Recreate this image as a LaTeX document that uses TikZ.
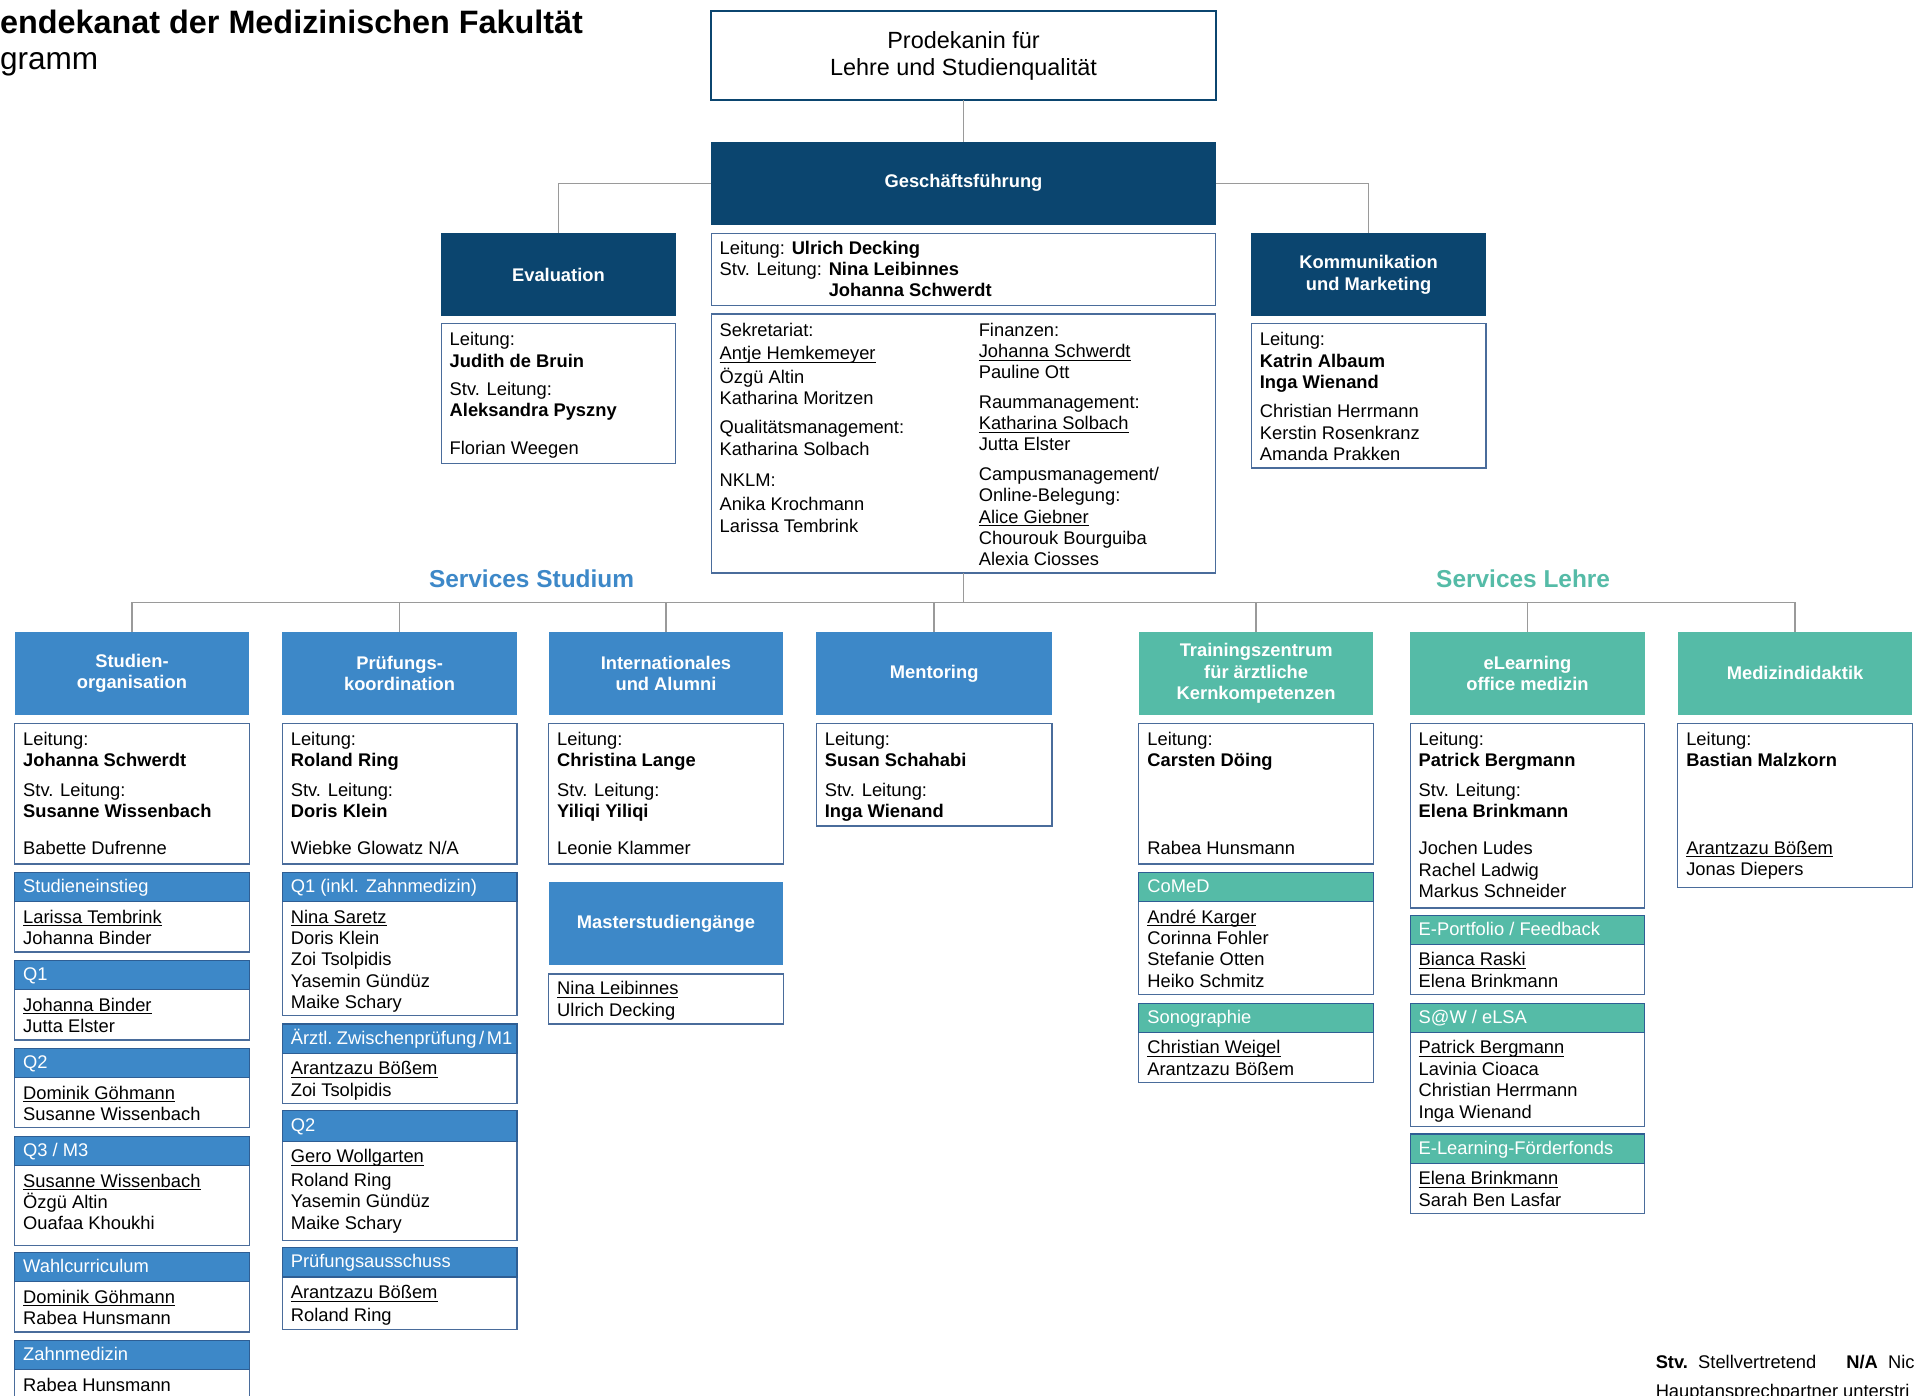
\documentclass[tikz,border=0pt]{standalone}
\usepackage{fontspec}
\setmainfont{Liberation Sans}
\usetikzlibrary{fit,calc}
\definecolor{dblue}{HTML}{0B456F}
\definecolor{mblue}{HTML}{3D88C8}
\definecolor{tealc}{HTML}{55BBA7}
\definecolor{bordc}{HTML}{4A6C9B}
\definecolor{hbordc}{HTML}{2E5E94}
\definecolor{conncol}{HTML}{9A9A9A}
\newcommand\undl[1]{\setbox0\hbox{#1}\rlap{\rule[-1.6pt]{\wd0}{0.5pt}}\box0}
\newcommand\fl{\rule{0pt}{9pt}}
\tikzset{
  basic/.style={inner sep=0pt, outer sep=0pt, font=\fontsize{9}{10.5}\selectfont},
  hdr/.style={basic, fill=#1, text=white, font=\fontsize{9}{10.5}\selectfont\bfseries, align=center},
  ibox/.style={basic, draw=bordc, line width=0.6pt, fill=white},
  sbar/.style={basic, draw=hbordc, line width=0.6pt, fill=#1},
  txt/.style={basic, anchor=north west, align=left},
  ltxt/.style={basic, anchor=base west},
  bartxt/.style={basic, anchor=base west, text=white},
  conn/.style={draw=conncol, line width=0.7pt},
}
\newcommand\subunit[9]{%
  \node[ibox, fit={(#3,#6)(#4,#7)}] (#1) {};
  \node[sbar=#2, fit={(#3,#5)(#4,#6)}] (#1h) {};
  \node[bartxt] (#1ht) at ({#3+7},{(#5+#6)/2+4.5}) {#8};
  \node[txt] (#1t) at ({#3+7},{#6+2.5}) {\fl#9};
}
\begin{document}
\begin{tikzpicture}[x=0.6pt,y=-0.6pt]
\useasboundingbox (0,0) rectangle (1568,1142);
\clip (0,0) rectangle (1568,1142);

% title
\node[basic, anchor=base west, font=\fontsize{15.9}{18}\selectfont\bfseries] (t1) at (0,27.5) {endekanat der Medizinischen Fakultät};
\node[basic, anchor=base west, font=\fontsize{15.5}{18}\selectfont] (t2) at (0,56.5) {gramm};

% top level
\node[basic, draw=dblue, line width=0.8pt, fill=white, fit={(582,9)(995,82)}] (prod) {};
\node[basic, align=center, font=\fontsize{11.5}{13.2}\selectfont] (prodt) at (prod.center) {Prodekanin für\\Lehre und Studienqualität};
\node[hdr=dblue, fit={(582,116)(995,184)}] (gf) {};
\node[hdr=dblue] (gft) at (gf.center) {Geschäftsführung};
\node[ibox, fit={(582,191)(995,250)}] (gfl) {};
\node[txt] (gflt) at (589,193) {\fl Leitung: \textbf{Ulrich Decking}\\Stv. Leitung: \textbf{Nina Leibinnes}\\\phantom{Stv. Leitung: }\textbf{Johanna Schwerdt}};
\node[ibox, fit={(582,257)(995,469)}] (gfs) {};
\node[txt] (gfs1) at (589,260) {\fl Sekretariat:\\[0.9pt]\undl{Antje Hemkemeyer}\\[1.5pt]Özgü Altin\\[-0.3pt]Katharina Moritzen\\[3.9pt]Qualitätsmanagement:\\[0.3pt]Katharina Solbach\\[4.5pt]NKLM:\\[1.5pt]Anika Krochmann\\[0.3pt]Larissa Tembrink};
\node[txt] (gfs2) at (801,260) {\fl Finanzen:\\\undl{Johanna Schwerdt}\\Pauline Ott\\[3.9pt]Raummanagement:\\\undl{Katharina Solbach}\\Jutta Elster\\[3.9pt]Campusmanagement/\\Online-Belegung:\\\undl{Alice Giebner}\\Chourouk Bourguiba\\Alexia Ciosses};

\node[hdr=dblue, fit={(361,191)(553,259)}] (eval) {};
\node[hdr=dblue] (evalt) at (eval.center) {Evaluation};
\node[ibox, fit={(361,265)(553,379)}] (evi) {};
\node[txt] (evit) at (368,268) {\fl Leitung:\\\textbf{Judith de Bruin}\\[3.3pt]Stv. Leitung:\\\textbf{Aleksandra Pyszny}\\[8.1pt]Florian Weegen};

\node[hdr=dblue, fit={(1024,191)(1216,259)}] (komm) {};
\node[hdr=dblue] (kommt) at (komm.center) {Kommunikation\\und Marketing};
\node[ibox, fit={(1024,265)(1216,383)}] (kmi) {};
\node[txt] (kmit) at (1031,268) {\fl Leitung:\\\textbf{Katrin Albaum}\\\textbf{Inga Wienand}\\[3.9pt]Christian Herrmann\\Kerstin Rosenkranz\\Amanda Prakken};

% section labels
\node[basic, anchor=base, font=\fontsize{12}{14}\selectfont\bfseries, text=mblue] (ss) at (435,481) {Services Studium};
\node[basic, anchor=base, font=\fontsize{12}{14}\selectfont\bfseries, text=tealc] (sl) at (1246.5,481) {Services Lehre};

% department headers
\node[hdr=mblue, fit={(12,517)(204,585)}] (c1) {};
\node[hdr=mblue] (c1t) at (c1.center) {Studien-\\organisation};
\node[hdr=mblue, fit={(231,517)(423,585)}] (c2) {};
\node[hdr=mblue] (c2t) at (c2.center) {Prüfungs-\\koordination};
\node[hdr=mblue, fit={(449,517)(641,585)}] (c3) {};
\node[hdr=mblue] (c3t) at (c3.center) {Internationales\\und Alumni};
\node[hdr=mblue, fit={(668,517)(861,585)}] (c4) {};
\node[hdr=mblue] (c4t) at (c4.center) {Mentoring};
\node[hdr=tealc, fit={(932,517)(1124,585)}] (c5) {};
\node[hdr=tealc] (c5t) at (c5.center) {Trainingszentrum\\für ärztliche\\Kernkompetenzen};
\node[hdr=tealc, fit={(1154,517)(1346,585)}] (c6) {};
\node[hdr=tealc] (c6t) at (c6.center) {eLearning\\office medizin};
\node[hdr=tealc, fit={(1373,517)(1565,585)}] (c7) {};
\node[hdr=tealc] (c7t) at (c7.center) {Medizindidaktik};

% info boxes
\node[ibox, fit={(12,592)(204,707)}] (i1) {};
\node[txt] (i1t) at (19,595) {\fl Leitung:\\\textbf{Johanna Schwerdt}\\[3.9pt]Stv. Leitung:\\\textbf{Susanne Wissenbach}\\[7.8pt]Babette Dufrenne};
\node[ibox, fit={(231,592)(423,707)}] (i2) {};
\node[txt] (i2t) at (238,595) {\fl Leitung:\\\textbf{Roland Ring}\\[3.9pt]Stv. Leitung:\\\textbf{Doris Klein}\\[7.8pt]Wiebke Glowatz N/A};
\node[ibox, fit={(449,592)(641,707)}] (i3) {};
\node[txt] (i3t) at (456,595) {\fl Leitung:\\\textbf{Christina Lange}\\[3.9pt]Stv. Leitung:\\\textbf{Yiliqi Yiliqi}\\[7.8pt]Leonie Klammer};
\node[ibox, fit={(668,592)(861,676)}] (i4) {};
\node[txt] (i4t) at (675,595) {\fl Leitung:\\\textbf{Susan Schahabi}\\[3.9pt]Stv. Leitung:\\\textbf{Inga Wienand}};
\node[ibox, fit={(932,592)(1124,707)}] (i5) {};
\node[txt] (i5t) at (939,595) {\fl Leitung:\\\textbf{Carsten Döing}\\[32.4pt]Rabea Hunsmann};
\node[ibox, fit={(1154,592)(1346,743)}] (i6) {};
\node[txt] (i6t) at (1161,595) {\fl Leitung:\\\textbf{Patrick Bergmann}\\[3.9pt]Stv. Leitung:\\\textbf{Elena Brinkmann}\\[7.8pt]Jochen Ludes\\Rachel Ladwig\\Markus Schneider};
\node[ibox, fit={(1373,592)(1565,726)}] (i7) {};
\node[txt] (i7t) at (1380,595) {\fl Leitung:\\\textbf{Bastian Malzkorn}\\[32.4pt]\undl{Arantzazu Bößem}\\Jonas Diepers};

% Masterstudiengaenge
\node[hdr=mblue, fit={(449,722)(641,790)}] (ms) {};
\node[hdr=mblue] (mst) at (ms.center) {Masterstudiengänge};
\node[ibox, fit={(449,797)(641,838)}] (msi) {};
\node[txt] (msit) at (456,799) {\fl\undl{Nina Leibinnes}\\Ulrich Decking};

% sub units column 1
\subunit{so1}{mblue}{12}{204}{714}{738}{779}{Studieneinstieg}{\undl{Larissa Tembrink}\\Johanna Binder}
\subunit{so2}{mblue}{12}{204}{786}{810}{851}{Q1}{\undl{Johanna Binder}\\Jutta Elster}
\subunit{so3}{mblue}{12}{204}{858}{882}{923}{Q2}{\undl{Dominik Göhmann}\\Susanne Wissenbach}
\subunit{so4}{mblue}{12}{204}{930}{954}{1019}{Q3 / M3}{\undl{Susanne Wissenbach}\\Özgü Altin\\Ouafaa Khoukhi}
\subunit{so5}{mblue}{12}{204}{1025}{1049}{1090}{Wahlcurriculum}{\undl{Dominik Göhmann}\\Rabea Hunsmann}
\subunit{so6}{mblue}{12}{204}{1097}{1121}{1160}{Zahnmedizin}{Rabea Hunsmann}
% column 2
\subunit{pk1}{mblue}{231}{423}{714}{738}{831}{Q1 (inkl. Zahnmedizin)}{\undl{Nina Saretz}\\Doris Klein\\Zoi Tsolpidis\\Yasemin Gündüz\\Maike Schary}
\subunit{pk2}{mblue}{231}{423}{838}{862}{903}{{\spaceskip=1.3pt Ärztl. Zwischenprüfung / M1}}{\undl{Arantzazu Bößem}\\Zoi Tsolpidis}
\subunit{pk3}{mblue}{231}{423}{909}{934}{1015}{Q2}{\undl{Gero Wollgarten}\\[1.2pt]Roland Ring\\Yasemin Gündüz\\Maike Schary}
\subunit{pk4}{mblue}{231}{423}{1021}{1045}{1088}{Prüfungsausschuss}{\undl{Arantzazu Bößem}\\[0.9pt]Roland Ring}
% column 5
\subunit{tz1}{tealc}{932}{1124}{714}{738}{814}{CoMeD}{\undl{André Karger}\\Corinna Fohler\\Stefanie Otten\\Heiko Schmitz}
\subunit{tz2}{tealc}{932}{1124}{821}{845}{886}{Sonographie}{\undl{Christian Weigel}\\Arantzazu Bößem}
% column 6
\subunit{el1}{tealc}{1154}{1346}{749}{773}{814}{E-Portfolio / Feedback}{\undl{Bianca Raski}\\Elena Brinkmann}
\subunit{el2}{tealc}{1154}{1346}{821}{845}{922}{S@W / eLSA}{\undl{Patrick Bergmann}\\Lavinia Cioaca\\Christian Herrmann\\Inga Wienand}
\subunit{el3}{tealc}{1154}{1346}{928}{952}{993}{E-Learning-Förderfonds}{\undl{Elena Brinkmann}\\Sarah Ben Lasfar}

% connectors
\draw[conn] (prod.south) -- (gf.north);
\draw[conn] (gf.west) -| (eval.north);
\draw[conn] (gf.east) -| (komm.north);
\coordinate (bus) at (788.5,493);
\draw[conn] (gfs.south) -- (bus);
\draw[conn] (c1.north) |- (bus) -| (c7.north);
\foreach \n in {c2,c3,c4,c5,c6} \draw[conn] (\n.north) -- (\n.north |- bus);

% footer
\node[ltxt] (f1) at (1355,1120) {\textbf{Stv.}\ \ Stellvertretend};
\node[ltxt] (f2) at (1511,1120) {\textbf{N/A}\ \ Nic};
\node[ltxt] (f3) at (1355,1144) {Hauptansprechpartner unterstri};
\end{tikzpicture}
\end{document}
